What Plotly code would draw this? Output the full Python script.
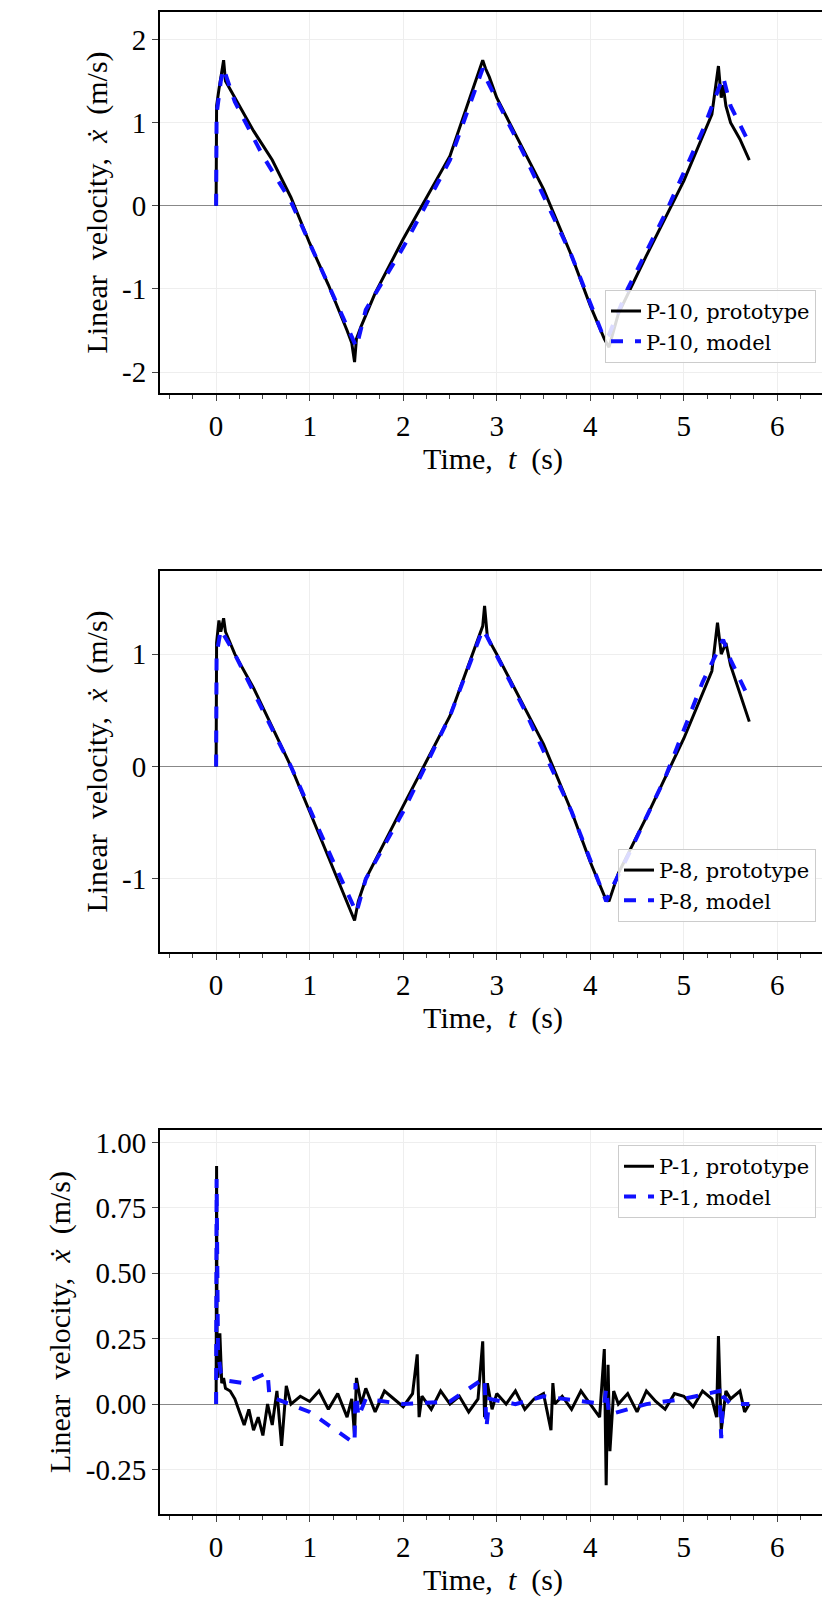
import plotly.graph_objects as go

# Panel 1 (P-10)
t1_p = [0,0.005,0.03,0.06,0.08,0.1,0.2,0.4,0.6,0.8,1.0,1.2,1.4,1.45,1.48,1.5,1.55,1.7,2.0,2.5,2.85,2.88,2.92,3.0,3.5,3.8,4.0,4.15,4.2,4.3,4.6,5.0,5.3,5.37,5.4,5.42,5.45,5.5,5.6,5.7]
v1_p = [0,1.2,1.4,1.6,1.75,1.5,1.3,0.9,0.55,0.1,-0.45,-0.95,-1.5,-1.65,-1.88,-1.6,-1.45,-1.05,-0.4,0.6,1.75,1.65,1.55,1.3,0.2,-0.6,-1.2,-1.6,-1.7,-1.3,-0.6,0.3,1.1,1.68,1.3,1.45,1.2,1.0,0.8,0.55]
t1_m = [0,0.005,0.05,0.08,0.2,0.5,0.8,1.2,1.45,1.5,1.6,2.0,2.5,2.85,2.9,3.3,3.8,4.15,4.2,4.4,4.8,5.2,5.42,5.5,5.7]
v1_m = [0,1.1,1.5,1.65,1.25,0.6,0.05,-0.95,-1.6,-1.7,-1.25,-0.5,0.55,1.65,1.5,0.6,-0.6,-1.6,-1.55,-1.0,-0.1,0.9,1.55,1.2,0.75]
# Panel 2 (P-8)
t2_p = [0,0.005,0.03,0.05,0.08,0.1,0.2,0.4,0.6,0.8,1.0,1.2,1.4,1.45,1.48,1.52,1.6,2.0,2.5,2.85,2.87,2.9,3.0,3.5,3.8,4.0,4.15,4.2,4.3,4.6,5.0,5.3,5.36,5.4,5.45,5.5,5.6,5.7]
v2_p = [0,1.1,1.3,1.2,1.32,1.2,1.0,0.7,0.35,0.0,-0.4,-0.8,-1.2,-1.3,-1.37,-1.2,-1.0,-0.35,0.45,1.25,1.43,1.15,1.0,0.2,-0.4,-0.85,-1.15,-1.2,-0.95,-0.45,0.25,0.85,1.28,1.0,1.1,0.9,0.65,0.4]
t2_m = [0,0.005,0.05,0.2,0.5,0.8,1.2,1.45,1.5,1.6,2.0,2.5,2.85,2.9,3.3,3.8,4.17,4.22,4.4,4.8,5.2,5.42,5.5,5.7]
v2_m = [0,1.0,1.22,1.0,0.5,0.0,-0.75,-1.2,-1.3,-1.0,-0.4,0.45,1.22,1.15,0.5,-0.4,-1.2,-1.1,-0.8,-0.1,0.75,1.13,0.95,0.6]
# Panel 3 (P-1)
t3_p = [0,0.005,0.01,0.02,0.04,0.06,0.08,0.1,0.15,0.2,0.25,0.3,0.35,0.4,0.45,0.5,0.55,0.6,0.65,0.7,0.75,0.8,0.9,1.0,1.1,1.2,1.3,1.4,1.45,1.48,1.5,1.55,1.6,1.7,1.8,1.9,2.0,2.1,2.15,2.17,2.2,2.3,2.4,2.5,2.6,2.7,2.8,2.85,2.87,2.9,2.95,3.0,3.1,3.2,3.3,3.4,3.5,3.58,3.6,3.62,3.7,3.8,3.9,4.0,4.1,4.15,4.17,4.19,4.21,4.25,4.3,4.4,4.5,4.6,4.7,4.8,4.9,5.0,5.1,5.2,5.3,5.35,5.37,5.4,5.45,5.5,5.6,5.65,5.7]
v3_p = [0,0.91,0.2,0.1,0.27,0.08,0.1,0.06,0.05,0.02,-0.03,-0.08,-0.02,-0.1,-0.05,-0.12,0.0,-0.08,0.05,-0.16,0.07,0.0,0.03,0.01,0.05,-0.02,0.04,-0.05,0.02,-0.12,0.1,0.0,0.06,-0.03,0.05,0.02,-0.01,0.04,0.19,-0.05,0.03,-0.02,0.05,0.0,0.03,-0.03,0.02,0.24,-0.05,0.08,-0.02,0.04,0.0,0.05,-0.02,0.02,0.04,-0.1,0.08,0.0,0.03,-0.02,0.05,0.0,-0.05,0.21,-0.31,0.15,-0.18,0.05,0.0,0.04,-0.03,0.05,0.01,-0.02,0.04,0.03,-0.01,0.05,0.02,-0.05,0.26,-0.1,0.05,0.02,0.05,-0.03,0.0]
t3_m = [0,0.005,0.02,0.05,0.1,0.3,0.55,0.57,1.0,1.48,1.49,1.52,1.6,2.0,2.5,2.87,2.89,2.92,3.2,3.5,4.15,4.17,4.2,4.6,5.0,5.38,5.4,5.42,5.5,5.7]
v3_m = [0,0.86,0.2,0.12,0.09,0.08,0.12,0.03,-0.03,-0.15,0.08,-0.05,0.02,0.0,0.01,0.1,-0.09,0.02,0.0,0.03,0.0,0.06,-0.04,0.0,0.02,0.05,-0.13,0.03,0.0,0.0]

panels = [(t1_p, v1_p, t1_m, v1_m, "P-10"), (t2_p, v2_p, t2_m, v2_m, "P-8"), (t3_p, v3_p, t3_m, v3_m, "P-1")]
domains = [[0.7464, 1.0], [0.3742, 0.6278], [0.0, 0.2556]]
yranges = [[-2.25, 2.33], [-1.65, 1.74], [-0.42, 1.047]]
ytickvals = [[-2, -1, 0, 1, 2], [-1, 0, 1], [-0.25, 0, 0.25, 0.5, 0.75, 1.0]]
yticktext = [["-2", "-1", "0", "1", "2"], ["-1", "0", "1"], ["-0.25", "0.00", "0.25", "0.50", "0.75", "1.00"]]
legy = [0.7464 + 0.02, 0.3742 + 0.02, 0.2556 - 0.01]
leganchor = ["bottom", "bottom", "top"]

FONT = "Liberation Serif"
fig = go.Figure()
layout = dict(width=830, height=1616, plot_bgcolor="white", paper_bgcolor="white",
              margin=dict(l=152, r=12, t=0, b=110), showlegend=True,
              font=dict(family=FONT, size=30, color="black"))
for i, (tp, vp, tm, vm, name) in enumerate(panels):
    xa = "x" if i == 0 else f"x{i+1}"
    ya = "y" if i == 0 else f"y{i+1}"
    lg = "legend" if i == 0 else f"legend{i+1}"
    fig.add_trace(go.Scatter(x=tp, y=vp, mode="lines", line=dict(color="black", width=3),
                             name=f"{name}, prototype", xaxis=xa, yaxis=ya, legend=lg))
    fig.add_trace(go.Scatter(x=tm, y=vm, mode="lines", line=dict(color="#1010ff", width=4, dash="dash"),
                             name=f"{name}, model", xaxis=xa, yaxis=ya, legend=lg))
    axs = dict(showline=True, linecolor="black", linewidth=2, mirror=True, ticks="outside", ticklen=6,
               showgrid=True, gridcolor="#eeeeee", zeroline=False, tickfont=dict(size=29))
    layout["xaxis" if i == 0 else f"xaxis{i+1}"] = dict(
        axs, domain=[0, 1], anchor=ya, range=[-0.6, 6.52], tickvals=[0, 1, 2, 3, 4, 5, 6],
        minor=dict(dtick=0.25, ticks="outside", ticklen=4, showgrid=False),
        title=dict(text="Time,  <i>t</i>  (s)", font=dict(size=30), standoff=4))
    layout["yaxis" if i == 0 else f"yaxis{i+1}"] = dict(
        axs, domain=domains[i], anchor=xa, range=yranges[i], tickvals=ytickvals[i], ticktext=yticktext[i],
        zeroline=True, zerolinecolor="#888888", zerolinewidth=1,
        title=dict(text="Linear  velocity,  <i>ẋ</i>  (m/s)", font=dict(size=30), standoff=6))
    layout[lg] = dict(x=0.985, y=legy[i], xanchor="right", yanchor=leganchor[i],
                      bgcolor="rgba(255,255,255,0.85)", bordercolor="#cccccc", borderwidth=1,
                      font=dict(family="DejaVu Serif", size=21))
fig.update_layout(**layout)
fig.write_html("out.html")
